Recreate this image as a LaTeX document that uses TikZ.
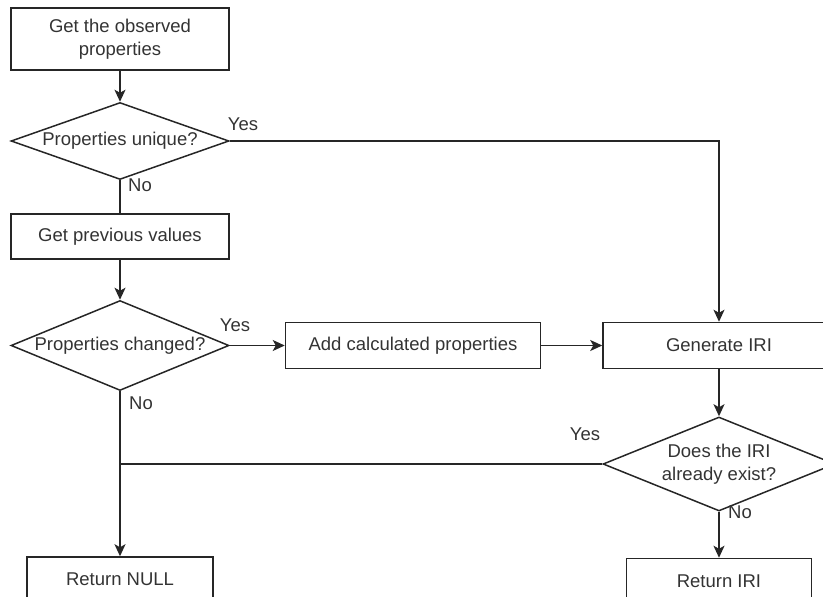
\documentclass[tikz,border=0pt]{standalone}
\usepackage{fontspec}
\setmainfont{Liberation Sans}
\usetikzlibrary{positioning, shapes.geometric, arrows.meta}

\begin{document}
\begin{tikzpicture}[x=1pt, y=-1pt,
  line width=1.5pt, draw=black!85, text=black!80,
  font=\fontsize{18.5}{22.5}\selectfont,
  >={Stealth[length=12pt, width=11pt, inset=3pt]},
  stepbox/.style={rectangle, draw, inner sep=0pt, align=center},
  choice/.style={diamond, draw, inner sep=0pt, align=center},
  lbl/.style={inner sep=0pt}]

 \useasboundingbox (0,0) rectangle (823,597);
 \clip (0,0) rectangle (823,597);

 %%%  nodes

 % left column
 \node [stepbox, minimum width=218pt, minimum height=62pt] (a) at (120,39) {Get the observed\\properties};
 \node [choice, aspect=2.83, minimum width=218pt, minimum height=77pt, below=31pt of a] (b) {Properties unique?};
 \node [stepbox, minimum width=218pt, minimum height=45pt, below=33pt of b] (c) {Get previous values};
 \node [choice, aspect=2.42, minimum width=218pt, minimum height=90pt, below=40pt of c] (d) {Properties changed?};
 \node [stepbox, minimum width=186pt, minimum height=60pt, below=165pt of d] (h) {};
 \node [lbl, below=16pt of h.north] (htext) {Return NULL};

 % middle and right column
 \node [stepbox, minimum width=255pt, minimum height=46pt, right=55pt of d] (e) {Add calculated properties};
 \node [stepbox, minimum width=232pt, minimum height=46pt, right=61pt of e] (f) {Generate IRI};
 \node [choice, aspect=2.47, minimum width=232pt, minimum height=94pt, below=47pt of f] (g) {Does the IRI\\already exist?};
 \node [stepbox, minimum width=185pt, minimum height=60pt, below=46pt of g] (i) {};
 \node [lbl, below=16pt of i.north] (itext) {Return IRI};

 % branch labels
 \node [lbl] (yesb) at (243,124) {Yes};
 \node [lbl] (nob) at (140,185) {No};
 \node [lbl] (yesd) at (235,325) {Yes};
 \node [lbl] (nod) at (141,403) {No};
 \node [lbl] (yesg) at (585,434) {Yes};
 \node [lbl] (nog) at (740,512) {No};

 %%%  connectors

 \draw [->] (a) to (b);
 \draw [->] (b.east) -| (f.north);
 \draw (b) to (c);
 \draw [->] (c) to (d);
 \draw [->] (d) to (e);
 \draw [->] (e) to (f);
 \draw [->] (f) to (g);
 \draw [->] (d.south) to (h.north);
 \draw (g.west) to (g.west -| d.south);
 \draw [->] (g.south) to (i.north);

\end{tikzpicture}
\end{document}
